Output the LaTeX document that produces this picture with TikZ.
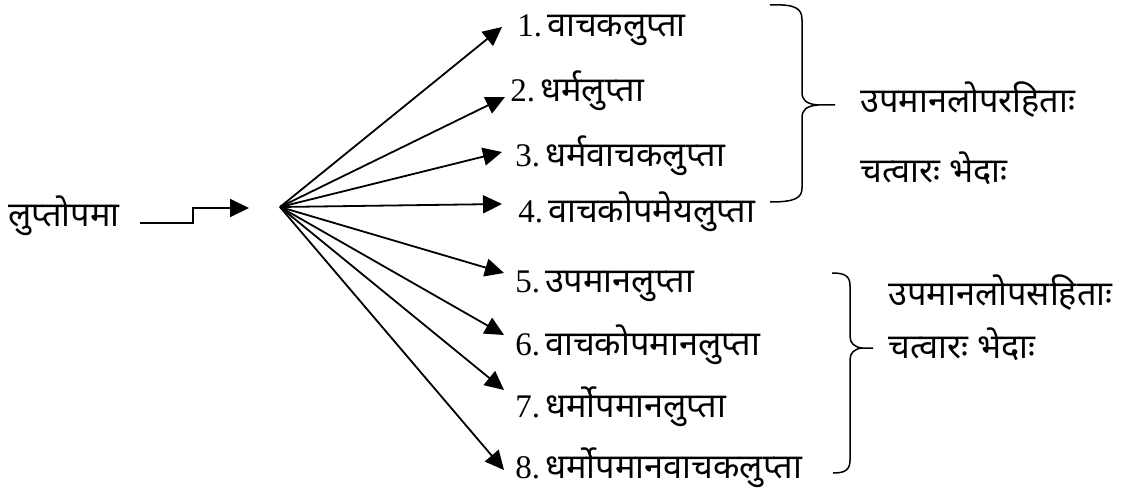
\documentclass[tikz,border=0pt]{standalone}
\usepackage{fontspec}
\setmainfont{Liberation Serif}
\newfontfamily\deva[Script=Devanagari,Scale=1.04]{Noto Sans}
\usetikzlibrary{arrows.meta}
\begin{document}
\begin{tikzpicture}[x=0.5pt,y=-0.5pt,
  lbl/.style={anchor=base west,inner sep=0pt,font=\fontsize{16.5}{20}\selectfont},
  arr/.style={line width=0.9pt,-{Triangle[length=9.5pt,width=9pt]}},
  brace/.style={line width=0.75pt}]
\useasboundingbox (0,0) rectangle (1144,497);
% left label
\node[lbl] (L) at (8,227) {\deva लुप्तोपमा};
% step arrow
\coordinate (s0) at (140,223);
\coordinate (s1) at (249,208);
\draw[arr] (s0) -- (193,223) -- (193,208) -- (s1);
% hub
\coordinate (hub) at (280,207);
% items
\node[lbl] (n1) at (517,37) {1.\hspace{2.5pt}{\deva वाचकलुप्ता}};
\node[lbl] (n2) at (510,102) {2.\hspace{2.5pt}{\deva धर्मलुप्ता}};
\node[lbl] (n3) at (515,167) {3.\hspace{2.5pt}{\deva धर्मवाचकलुप्ता}};
\node[lbl] (n4) at (518,222) {4.\hspace{2.5pt}{\deva वाचकोपमेयलुप्ता}};
\node[lbl] (n5) at (515,292) {5.\hspace{2.5pt}{\deva उपमानलुप्ता}};
\node[lbl] (n6) at (515,355) {6.\hspace{2.5pt}{\deva वाचकोपमानलुप्ता}};
\node[lbl] (n7) at (515,417) {7.\hspace{2.5pt}{\deva धर्मोपमानलुप्ता}};
\node[lbl] (n8) at (515,478) {8.\hspace{2.5pt}{\deva धर्मोपमानवाचकलुप्ता}};
% arrow tips
\coordinate (t1) at (502,27);
\coordinate (t2) at (505,97);
\coordinate (t3) at (502,152);
\coordinate (t4) at (502,204);
\coordinate (t5) at (504,273);
\coordinate (t6) at (504,335);
\coordinate (t7) at (504,390);
\coordinate (t8) at (504,470);
\foreach \i in {1,...,8} {\draw[arr] (hub) -- (t\i);}
% upper brace
\draw[brace] (770,5) .. controls (795,4) and (802,8) .. (802,20) -- (802,92)
  .. controls (802,100) and (806,104) .. (818,105) -- (835,105);
\draw[brace] (818,105) .. controls (806,106) and (802,110) .. (802,118) -- (802,188)
  .. controls (802,198) and (795,202) .. (770,202);
\node[lbl] (r1) at (860,113) {\deva उपमानलोपरहिताः};
\node[lbl] (r2) at (860,183) {\deva चत्वारः भेदाः};
% lower brace
\draw[brace] (832,273) .. controls (845,273) and (850,276) .. (850,286) -- (850,336)
  .. controls (850,343) and (854,347) .. (862,348) -- (873,348);
\draw[brace] (862,348) .. controls (854,349) and (850,353) .. (850,360) -- (850,460)
  .. controls (850,470) and (845,473) .. (833,473);
\node[lbl] (r3) at (888,305) {\deva उपमानलोपसहिताः};
\node[lbl] (r4) at (888,358) {\deva चत्वारः भेदाः};
\end{tikzpicture}
\end{document}
